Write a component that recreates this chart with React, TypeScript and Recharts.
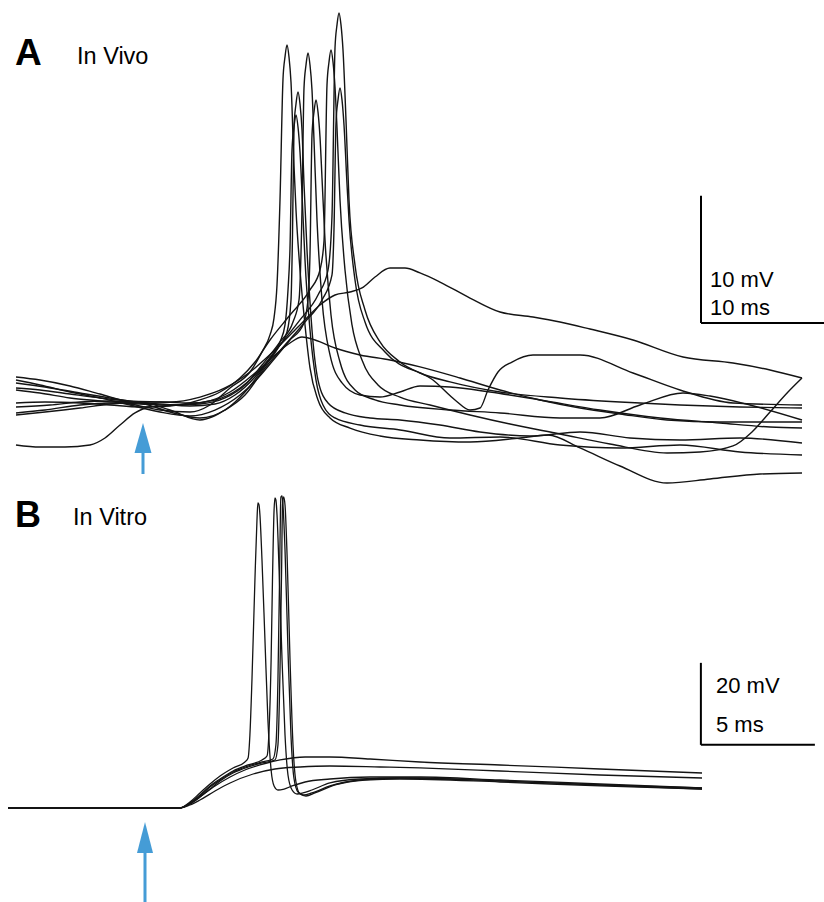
import { LineChart, Line, XAxis, YAxis, ReferenceLine } from 'recharts';

// traces are [time (ms), membrane potential (mV, relative to baseline)]

// ---- A: in vivo ----
const vivoS1: [number, number][] = [
  [0, 1.19], [1.92, 0.95], [4.32, 0.56], [6.72, 0.32], [9.12, 0.08], [11.52, -0.4], [13.92, -0.56],
  [15.52, 0], [17.12, 1.35], [18.72, 2.62], [19.68, 4.21], [20.32, 5.56], [20.64, 6.9], [20.88, 9.52],
  [21.12, 16.27], [21.36, 25.87], [21.52, 27.62], [21.68, 28.57], [21.84, 27.62], [22.0, 25.63],
  [22.24, 18.97], [22.4, 15.48], [22.72, 10.71], [23.12, 6.35], [23.52, 2.94], [24.16, 0.4], [25.12, -1.03],
  [26.72, -1.83], [29.12, -2.46], [32.32, -2.78], [36.32, -2.94], [40.32, -2.62], [42.56, -2.38],
  [45.12, -3.41], [48.32, -4.84], [52.08, -6.19], [55.52, -5.87], [59.52, -5.48], [62.88, -5.4],
];

const vivoS2: [number, number][] = [
  [0, 2.22], [1.92, 1.98], [4.32, 1.51], [6.72, 0.87], [9.12, 0.24], [11.52, 0.08], [13.92, -0.08],
  [15.92, 0.08], [17.52, 0.79], [19.12, 2.22], [20.32, 3.73], [21.12, 5.0], [21.52, 6.35], [21.76, 9.13],
  [21.92, 12.46], [22.08, 20.24], [22.24, 22.06], [22.4, 23.02], [22.56, 22.06], [22.72, 20.08],
  [22.96, 15.0], [23.12, 11.51], [23.52, 5.95], [24.0, 1.98], [24.56, 0], [25.52, -1.03], [27.52, -1.59],
  [30.72, -1.98], [34.72, -2.62], [38.72, -2.54], [43.52, -3.17], [48.32, -3.41], [53.12, -3.17],
  [57.92, -3.73], [62.88, -3.97],
];

const vivoS3: [number, number][] = [
  [0, -0.16], [2.72, 0], [5.12, 0.24], [7.52, 0.32], [9.92, 0.16], [12.32, -0.56], [14.72, -1.03],
  [16.72, -0.4], [18.32, 1.03], [19.68, 2.78], [20.96, 4.52], [21.68, 5.79], [22.0, 8.33], [22.12, 13.49],
  [22.24, 22.06], [22.4, 23.89], [22.56, 24.84], [22.72, 23.89], [22.88, 21.83], [23.04, 17.54],
  [23.28, 12.3], [23.68, 5.95], [24.16, 1.98], [24.96, 0.16], [26.32, -0.63], [28.32, -1.03],
  [30.72, -1.19], [33.92, -1.59], [37.12, -2.14], [41.12, -2.46], [45.12, -2.14], [49.12, -2.62],
  [53.12, -2.78], [57.92, -2.62], [62.88, -3.02],
];

const vivoS4: [number, number][] = [
  [0, -0.63], [2.32, -0.4], [5.12, 0], [7.52, 0.16], [9.92, 0.08], [12.32, 0], [14.72, 0.08],
  [16.72, 0.56], [18.32, 1.59], [19.68, 3.17], [21.12, 5.0], [22.16, 6.59], [22.64, 8.33], [22.88, 15.5],
  [23.04, 25.16], [23.2, 26.98], [23.36, 27.94], [23.52, 26.98], [23.68, 25.0], [23.84, 21.03],
  [24.08, 14.68], [24.48, 8.33], [25.12, 3.97], [26.08, 1.75], [27.52, 0.79], [29.12, 0.63], [30.72, 1.03],
  [32.32, 1.51], [34.72, 1.43], [37.92, 1.03], [41.92, 0.4], [46.72, -0.4], [51.52, -1.03],
  [56.32, -1.43], [60.32, -1.75], [62.88, -1.83],
];

const vivoS5: [number, number][] = [
  [0, 1.98], [1.92, 1.59], [4.32, 1.03], [6.72, 0.56], [9.12, 0], [11.52, -0.56], [13.92, -0.87],
  [15.92, -0.4], [17.92, 0.79], [19.36, 2.14], [20.72, 3.73], [21.92, 5.16], [22.96, 6.35], [23.36, 8.33],
  [23.52, 11.98], [23.68, 21.43], [23.84, 23.25], [24.0, 24.21], [24.16, 23.25], [24.32, 21.27],
  [24.48, 18.02], [24.72, 13.1], [25.2, 7.14], [25.92, 3.41], [27.12, 1.19], [28.72, 0.4], [30.72, 0],
  [34.72, -0.4], [38.72, -0.63], [43.52, -1.03], [46.72, -1.03], [49.92, 0], [53.36, 0.95],
  [55.52, 0.71], [58.72, 0], [62.88, -1.19],
];

const vivoS6: [number, number][] = [
  [0, 0.16], [2.32, 0.24], [5.12, 0.16], [7.52, 0], [9.92, -0.16], [12.32, -0.08], [14.72, 0.4],
  [16.32, 1.03], [17.92, 2.14], [19.12, 3.41], [20.32, 5.16], [21.92, 7.14], [23.52, 9.13], [24.32, 10.71],
  [24.64, 13.02], [24.88, 25.4], [25.04, 27.22], [25.2, 28.17], [25.36, 27.22], [25.52, 25.24],
  [25.68, 21.98], [25.92, 16.27], [26.32, 10.71], [26.88, 6.35], [27.68, 3.57], [28.96, 1.59],
  [30.72, 0.63], [33.12, 0], [36.32, -0.79], [39.52, -1.51], [43.52, -2.3], [47.52, -3.1], [52.08, -3.81],
  [54.72, -3.73], [57.36, -3.25], [58.88, -2.14], [60.32, -0.56], [61.76, 1.03], [62.88, 2.14],
];

const vivoS7: [number, number][] = [
  [0, 1.35], [1.92, 1.19], [4.32, 0.87], [6.72, 0.56], [9.12, 0.32], [11.52, 0.24], [13.92, 0.16],
  [15.92, 0.4], [17.92, 1.35], [19.52, 2.78], [21.12, 4.76], [22.72, 6.75], [24.16, 8.73], [24.96, 10.71],
  [25.28, 15.0], [25.52, 28.33], [25.68, 30.16], [25.84, 31.11], [26.0, 30.16], [26.16, 28.17],
  [26.4, 22.62], [26.64, 16.27], [27.12, 11.11], [27.92, 7.54], [29.12, 5.0], [30.72, 3.41],
  [33.36, 1.98], [35.12, 0.4], [36.32, -0.4], [37.12, -0.24], [37.76, 1.19], [38.56, 2.62],
  [39.68, 3.41], [41.36, 3.97], [45.12, 3.97], [49.36, 2.54], [53.12, 1.19], [57.36, 0.16], [62.88, 0],
];

const vivoS8: [number, number][] = [
  [0, -0.79], [2.32, -0.56], [5.12, -0.24], [7.52, 0.08], [9.92, 0.24], [12.32, -0.4], [14.72, -1.19],
  [16.72, -0.4], [18.32, 0.79], [19.92, 2.94], [21.52, 4.76], [23.12, 6.59], [24.48, 8.33], [25.28, 10.32],
  [25.44, 13.97], [25.6, 22.38], [25.76, 24.21], [25.92, 25.16], [26.08, 24.21], [26.24, 22.22],
  [26.48, 17.54], [26.64, 14.68], [27.12, 9.92], [27.92, 6.59], [29.52, 4.21], [32.32, 2.54],
  [34.72, 1.83], [38.72, 1.03], [43.52, 0.56], [48.32, 0.24], [53.12, 0], [57.92, -0.16], [62.88, -0.24],
];

// subthreshold sweeps
const vivoN1: [number, number][] = [
  [0, 1.75], [2.32, 1.43], [5.12, 0.95], [7.52, 0.56], [9.92, 0.24], [12.32, 0.24], [14.72, 0.63],
  [16.72, 1.35], [18.72, 2.62], [20.72, 4.37], [22.72, 6.35], [24.32, 7.94], [25.52, 8.73], [26.72, 8.97],
  [27.68, 9.29], [28.72, 10.16], [29.92, 10.87], [31.12, 10.87], [32.32, 10.48], [33.92, 9.76],
  [36.32, 8.49], [38.72, 7.38], [41.36, 6.98], [43.52, 6.59], [45.92, 6.03], [49.36, 5.16],
  [53.36, 3.81], [57.36, 3.33], [60.32, 2.78], [62.88, 2.14],
];

const vivoN2: [number, number][] = [
  [0, -3.17], [1.92, -3.33], [3.92, -3.33], [5.92, -3.17], [7.12, -2.62], [8.32, -1.59], [9.52, -0.63],
  [10.72, -0.16], [12.72, 0], [15.12, 0.24], [17.12, 1.03], [19.12, 2.54], [20.72, 3.97], [21.92, 4.92],
  [22.88, 5.4], [23.92, 5.16], [25.52, 4.52], [27.52, 3.97], [29.92, 3.57], [32.32, 3.02], [35.52, 2.14],
  [38.72, 1.19], [41.92, 0.4], [45.12, -0.24], [48.32, -0.71], [52.08, -1.19], [56.32, -1.35],
  [60.32, -1.35], [62.88, -1.35],
];

// ---- B: in vitro ----
const vitroS1: [number, number][] = [
  [0, 0], [4.04, 0], [7.54, 0], [7.98, 1.46], [8.42, 3.66], [8.86, 5.85], [9.3, 7.8], [9.87, 9.76],
  [10.39, 11.22], [10.53, 12.2], [10.61, 17.8], [10.7, 31.22], [10.83, 55.61], [10.92, 70.24],
  [10.96, 74.39], [11.01, 73.9], [11.05, 71.46], [11.14, 60.49], [11.27, 40.98], [11.4, 21.46],
  [11.54, 9.27], [11.67, 5.37], [11.84, 4.39], [12.11, 4.63], [12.46, 5.37], [13.03, 6.34],
  [14.12, 7.07], [15.88, 7.56], [18.07, 7.56], [21.58, 6.83], [25.96, 5.85], [30.44, 4.88],
];

const vitroS2: [number, number][] = [
  [0, 0], [7.54, 0], [7.98, 1.22], [8.42, 3.17], [8.86, 5.37], [9.3, 7.07], [9.87, 9.02], [10.53, 10.49],
  [11.14, 11.71], [11.36, 12.68], [11.45, 19.02], [11.54, 36.1], [11.6, 55.61], [11.67, 72.68],
  [11.71, 75.61], [11.75, 75.12], [11.8, 71.46], [11.89, 58.05], [12.02, 36.1], [12.15, 17.8],
  [12.28, 8.05], [12.46, 4.39], [12.68, 3.41], [12.94, 3.66], [13.33, 4.39], [14.12, 6.1],
  [15.44, 7.07], [17.19, 7.32], [21.58, 6.59], [25.96, 5.61], [30.44, 4.88],
];

const vitroS3: [number, number][] = [
  [0, 0], [7.54, 0], [7.98, 1.22], [8.42, 2.93], [8.86, 5.12], [9.3, 6.83], [9.87, 8.78], [10.53, 10.24],
  [11.14, 11.22], [11.62, 11.95], [11.75, 15.37], [11.84, 31.22], [11.91, 55.61], [11.95, 72.68],
  [11.97, 75.85], [12.02, 76.1], [12.06, 73.9], [12.15, 62.93], [12.28, 38.54], [12.41, 17.8],
  [12.54, 7.32], [12.72, 3.9], [12.98, 3.17], [13.33, 3.66], [14.12, 5.37], [15.44, 6.83],
  [17.19, 7.32], [21.58, 6.59], [25.96, 5.61], [30.44, 4.63],
];

const vitroS4: [number, number][] = [
  [0, 0], [7.54, 0], [7.98, 0.98], [8.42, 2.68], [8.86, 4.63], [9.3, 6.59], [9.87, 8.54], [10.53, 10.0],
  [11.14, 10.98], [11.71, 11.71], [11.84, 15.37], [11.93, 33.66], [12.0, 58.05], [12.04, 73.9],
  [12.09, 75.85], [12.15, 73.9], [12.24, 61.71], [12.37, 36.1], [12.5, 15.37], [12.63, 6.34],
  [12.81, 3.41], [13.07, 2.93], [13.46, 3.66], [14.34, 5.61], [15.66, 6.83], [17.19, 7.07],
  [21.58, 6.34], [25.96, 5.37], [30.44, 4.63],
];

const vitroN1: [number, number][] = [
  [0, 0], [7.54, 0], [7.98, 0.98], [8.42, 2.68], [9.08, 5.37], [9.74, 7.56], [10.39, 9.27],
  [11.05, 10.49], [11.93, 11.71], [13.03, 12.44], [14.12, 12.44], [15.88, 11.95], [18.07, 11.22],
  [21.58, 10.49], [25.96, 9.51], [30.44, 8.54],
];

const vitroN2: [number, number][] = [
  [0, 0], [7.54, 0], [7.98, 0.73], [8.42, 1.95], [9.08, 4.15], [9.74, 6.1], [10.75, 8.29], [11.71, 9.51],
  [12.81, 10.0], [14.12, 10.24], [16.32, 10.0], [18.07, 9.76], [21.58, 9.02], [25.96, 8.05], [30.44, 7.32],
];

const vivoTraces = [vivoS1, vivoS2, vivoS3, vivoS4, vivoS5, vivoS6, vivoS7, vivoS8, vivoN1, vivoN2];
const vitroTraces = [vitroS1, vitroS2, vitroS3, vitroS4, vitroN1, vitroN2];

const toPoints = (arr: [number, number][]) => arr.map(([t, v]) => ({ t, v }));

const FONT = '"Liberation Sans", Arial, sans-serif';
const TRACE = '#141414';
const ARROW = '#459cd6';

export default function App() {
  return (
    <div style={{ position: 'absolute', left: 0, top: 0, width: 824, height: 902, background: '#fff', overflow: 'hidden' }}>
      <div style={{ position: 'absolute', left: 0, top: 0 }}>
        <LineChart width={824} height={500} margin={{ top: 0, right: 0, bottom: 0, left: 0 }}>
          <XAxis type="number" dataKey="t" domain={[-1.28, 64.64]} hide allowDataOverflow />
          <YAxis type="number" domain={[-7.54, 32.14]} hide allowDataOverflow />
          {vivoTraces.map((tr, i) => (
            <Line
              key={`vivo-${i}`}
              data={toPoints(tr)}
              dataKey="v"
              type="monotone"
              stroke={TRACE}
              strokeWidth={1.4}
              dot={false}
              activeDot={false}
              isAnimationActive={false}
            />
          ))}
          {/* scale bar 10 mV / 10 ms */}
          <ReferenceLine segment={[{ x: 54.8, y: 16.6 }, { x: 54.8, y: 6.5 }]} stroke="#000" strokeWidth={2} ifOverflow="visible" />
          <ReferenceLine segment={[{ x: 54.8, y: 6.5 }, { x: 64.8, y: 6.5 }]} stroke="#000" strokeWidth={2} ifOverflow="visible" />
        </LineChart>
      </div>
      <div style={{ position: 'absolute', left: 0, top: 480 }}>
        <LineChart width={824} height={422} margin={{ top: 0, right: 0, bottom: 0, left: 0 }}>
          <XAxis type="number" dataKey="t" domain={[-0.351, 35.79]} hide allowDataOverflow />
          <YAxis type="number" domain={[-22.93, 80]} hide allowDataOverflow />
          {vitroTraces.map((tr, i) => (
            <Line
              key={`vitro-${i}`}
              data={toPoints(tr)}
              dataKey="v"
              type="monotone"
              stroke={TRACE}
              strokeWidth={1.3}
              dot={false}
              activeDot={false}
              isAnimationActive={false}
            />
          ))}
          {/* scale bar 20 mV / 5 ms */}
          <ReferenceLine segment={[{ x: 30.39, y: 35.4 }, { x: 30.39, y: 15.4 }]} stroke="#000" strokeWidth={2} ifOverflow="visible" />
          <ReferenceLine segment={[{ x: 30.39, y: 15.4 }, { x: 35.39, y: 15.4 }]} stroke="#000" strokeWidth={2} ifOverflow="visible" />
        </LineChart>
      </div>
      <svg width={824} height={902} style={{ position: 'absolute', left: 0, top: 0, pointerEvents: 'none' }}>
        <g fontFamily={FONT} fill="#000">
          <text x={15} y={65} fontSize={37} fontWeight="bold">A</text>
          <text x={77} y={64} fontSize={23.5}>In Vivo</text>
          <text x={15} y={527} fontSize={36} fontWeight="bold">B</text>
          <text x={73} y={525} fontSize={23.5}>In Vitro</text>
          <text x={710} y={287} fontSize={22}>10 mV</text>
          <text x={710} y={315} fontSize={22}>10 ms</text>
          <text x={716} y={693} fontSize={22}>20 mV</text>
          <text x={716} y={732} fontSize={22}>5 ms</text>
        </g>
        {/* stimulus arrows */}
        <g fill={ARROW}>
          <polygon points="143,423 134.5,453 151.5,453" />
          <rect x={141.5} y={452} width={3} height={22} />
          <polygon points="145,822 137,853 153,853" />
          <rect x={143.5} y={852} width={3} height={50} />
        </g>
      </svg>
    </div>
  );
}
